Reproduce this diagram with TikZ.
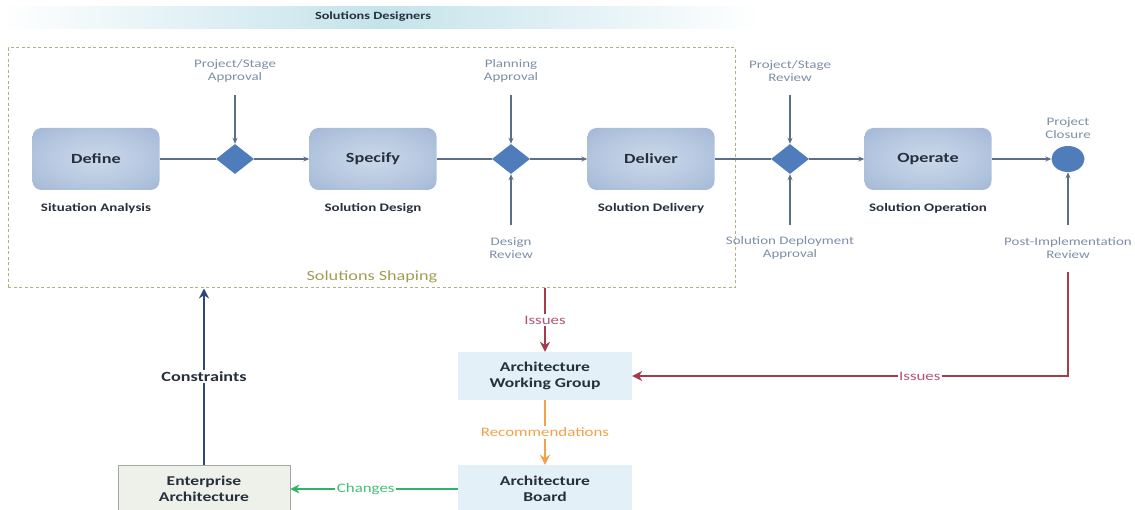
\documentclass[tikz,border=0pt]{standalone}
\usepackage{fontspec}
\setmainfont{Carlito}[FakeStretch=1.3]
\usetikzlibrary{arrows.meta,shapes.geometric,calc}

\definecolor{darktext}{HTML}{26303D}
\definecolor{graytext}{HTML}{7D8FA5}
\definecolor{flowline}{HTML}{5C6F86}
\definecolor{gateblue}{HTML}{4F7DBB}
\definecolor{boxin}{HTML}{CCD8EA}
\definecolor{boxmid}{HTML}{B4C6DF}
\definecolor{boxout}{HTML}{9BB1D2}
\definecolor{bandcyan}{HTML}{C4E3EB}
\definecolor{shapeline}{HTML}{B3B07C}
\definecolor{shapetext}{HTML}{A29C52}
\definecolor{groupfill}{HTML}{E3F0F7}
\definecolor{eafill}{HTML}{EEF0EA}
\definecolor{eadraw}{HTML}{A3A6A3}
\definecolor{issuered}{HTML}{A33D4A}
\definecolor{issuetext}{HTML}{B25575}
\definecolor{recorange}{HTML}{F0A34A}
\definecolor{chgreen}{HTML}{2FB465}
\definecolor{chtext}{HTML}{45C173}
\definecolor{constblue}{HTML}{2B4877}

\pgfdeclareradialshading{boxglow}{\pgfpoint{0bp}{0bp}}{%
  color(0bp)=(boxin); color(22bp)=(boxmid); color(42bp)=(boxout); color(80bp)=(boxout)}

\tikzset{
  procbox/.style={shade, shading=boxglow, rounded corners=9pt,
    minimum width=127pt, minimum height=62pt, inner sep=0pt,
    font=\bfseries\fontsize{14}{16}\selectfont, text=darktext},
  gate/.style={diamond, fill=gateblue, minimum width=38pt, minimum height=30pt, inner sep=0pt},
  closure/.style={ellipse, fill=gateblue, minimum width=33pt, minimum height=26pt, inner sep=0pt},
  stagename/.style={font=\bfseries\fontsize{11.5}{13}\selectfont, text=darktext},
  checkpoint/.style={font=\fontsize{11.5}{12.5}\selectfont, text=graytext, align=center},
  flow/.style={draw=flowline, line width=1.2pt},
  flowarrow/.style={flow, -{Stealth[length=6pt,width=5pt]}},
  groupbox/.style={fill=groupfill, minimum width=174pt, minimum height=48pt, inner sep=0pt,
    align=center, font=\bfseries\fontsize{13.5}{16}\selectfont, text=darktext},
  eabox/.style={fill=eafill, draw=eadraw, line width=0.8pt, minimum width=172pt, minimum height=48pt,
    inner sep=0pt, align=center, font=\bfseries\fontsize{13.5}{16}\selectfont, text=darktext},
  onlabel/.style={fill=white, inner sep=1.5pt, font=\fontsize{13}{15}\selectfont},
  thick arrow/.style={line width=2.8pt, -{Stealth[length=10pt,width=10pt]}}
}

\begin{document}
\begin{tikzpicture}[x=1pt,y=-1pt]
\useasboundingbox (0,0) rectangle (1135,510);

% header band
\fill[left color=white, right color=white, middle color=bandcyan] (0,7) rectangle (760,29);
\node[font=\bfseries\fontsize{11}{13}\selectfont, text=darktext] (designers) at (373,17) {Solutions Designers};

% solutions shaping frame
\node[draw=shapeline, line width=1pt, dash pattern=on 3pt off 2.5pt,
      minimum width=727pt, minimum height=240pt, inner sep=0pt] (shaping) at (371.5,168) {};
\node[font=\fontsize{14}{16}\selectfont, text=shapetext] (shapinglabel) at (372,277) {Solutions Shaping};

% stages
\node[procbox] (define)  at (96,159)  {Define};
\node[procbox] (specify) at (373,159) {Specify};
\node[procbox] (deliver) at (651,159) {Deliver};
\node[procbox] (operate) at (928,159) {Operate};

\node[stagename] (sa) at (96,208)  {Situation Analysis};
\node[stagename] (sd) at (373,208) {Solution Design};
\node[stagename] (sl) at (651,208) {Solution Delivery};
\node[stagename] (so) at (928,208) {Solution Operation};

% gates
\node[gate] (g1) at (235,159) {};
\node[gate] (g2) at (511,159) {};
\node[gate] (g3) at (790,159) {};
\node[closure] (pc) at (1068,159) {};

% checkpoint labels
\node[checkpoint] (psa) at (235,71)  {Project/Stage\\Approval};
\node[checkpoint] (pa)  at (511,71)  {Planning\\Approval};
\node[checkpoint] (psr) at (790,71)  {Project/Stage\\Review};
\node[checkpoint] (pcl) at (1068,128) {Project\\Closure};
\node[checkpoint] (dr)  at (511,248) {Design\\Review};
\node[checkpoint] (sda) at (790,248) {Solution Deployment\\Approval};
\node[checkpoint] (pir) at (1068,248) {Post-Implementation\\Review};

\coordinate (t1) at (235,95);
\coordinate (t2) at (511,95);
\coordinate (t3) at (790,95);
\coordinate (b2) at (511,225);
\coordinate (b3) at (790,225);
\coordinate (b4) at (1068,225);

% main flow
\draw[flow] (define) -- (g1);
\draw[flowarrow] (g1) -- (specify);
\draw[flow] (specify) -- (g2);
\draw[flowarrow] (g2) -- (deliver);
\draw[flow] (deliver) -- (g3);
\draw[flowarrow] (g3) -- (operate);
\draw[flowarrow] (operate) -- (pc);

% checkpoint inputs
\draw[flowarrow] (t1) -- (g1.north);
\draw[flowarrow] (t2) -- (g2.north);
\draw[flowarrow] (t3) -- (g3.north);
\draw[flowarrow] (b2) -- (g2.south);
\draw[flowarrow] (b3) -- (g3.south);
\draw[flowarrow] (b4) -- (pc.south);

% governance
\node[groupbox] (awg) at (545,376) {Architecture\\Working Group};
\node[groupbox] (ab)  at (545,489) {Architecture\\Board};
\node[eabox]    (ea)  at (204,489) {Enterprise\\Architecture};

\coordinate (pirfoot) at (1068,272);

\draw[issuered, thick arrow] (shaping.south -| awg.north) -- node[onlabel, text=issuetext] (iss1) {Issues} (awg.north);
\draw[issuered, thick arrow] (pirfoot) |- node[onlabel, text=issuetext, pos=0.67] (iss2) {Issues} (awg.east);
\draw[recorange, thick arrow] (awg.south) -- node[onlabel, text=recorange] (rec) {Recommendations} (ab.north);
\draw[chgreen, line width=2.2pt, -{Stealth[length=9pt,width=9pt]}] (ab.west) -- node[onlabel, text=chtext, pos=0.55] (chg) {Changes} (ea.east);
\draw[constblue, thick arrow] (ea.north) -- node[onlabel, text=darktext, font=\bfseries\fontsize{14}{16}\selectfont] (cons) {Constraints} (ea.north |- shaping.south);

\end{tikzpicture}
\end{document}
